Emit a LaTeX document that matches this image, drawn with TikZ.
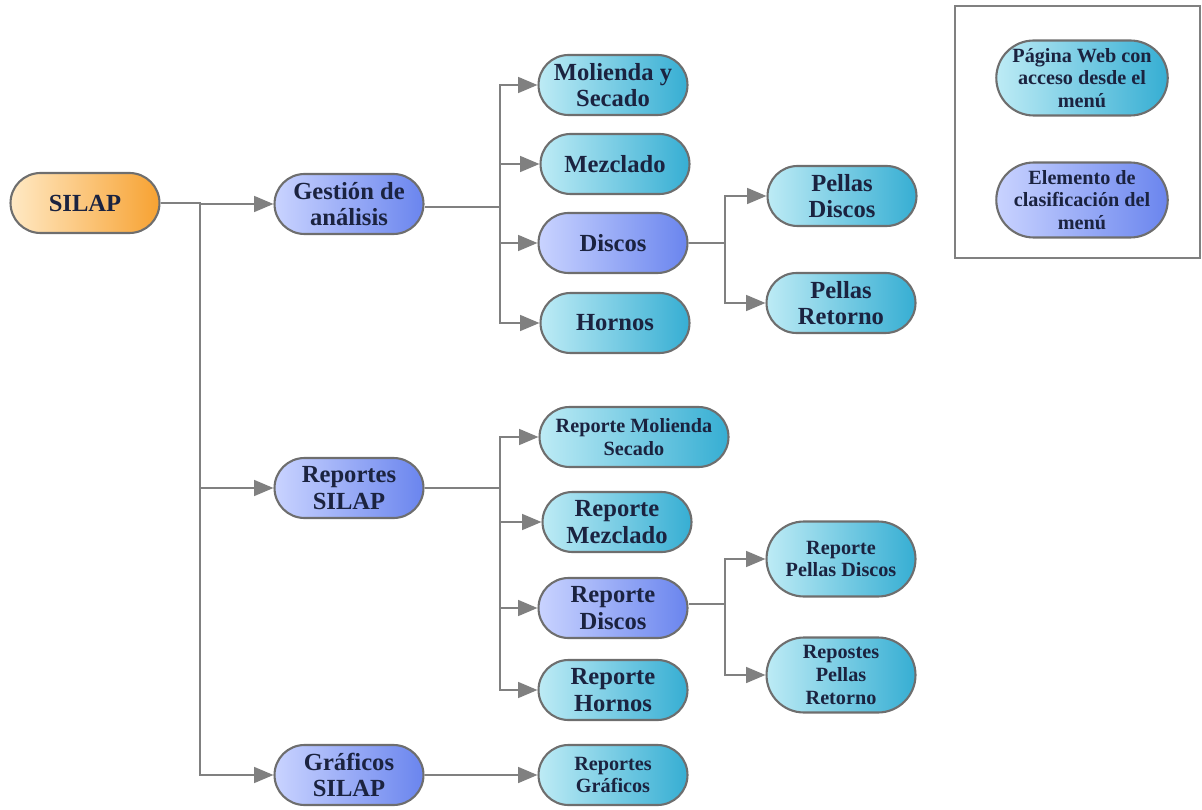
\documentclass[tikz,border=0pt]{standalone}
\usepackage{fontspec}
\usepackage{tikz}
\usetikzlibrary{shapes.misc,arrows.meta}
\setmainfont{Liberation Serif}

\definecolor{inkblue}{HTML}{1B2340}
\definecolor{linkgray}{HTML}{808080}
\definecolor{edgegray}{HTML}{6E6E6E}
\definecolor{orangelt}{HTML}{FFE9C4}
\definecolor{orangedk}{HTML}{F7A232}
\definecolor{bluelt}{HTML}{C9D3FF}
\definecolor{bluedk}{HTML}{6A85EE}
\definecolor{cyanlt}{HTML}{BDEBF5}
\definecolor{cyandk}{HTML}{36AED3}

\begin{document}
\begin{tikzpicture}[x=0.02cm,y=-0.02cm,
  box/.style={rounded rectangle, draw=edgegray, line width=1.2pt, align=center,
    text=inkblue, font=\bfseries\fontsize{14}{15}\selectfont,
    minimum width=3.05cm, minimum height=1.2cm, inner sep=1pt},
  small/.style={font=\bfseries\fontsize{11.5}{13}\selectfont},
  root/.style={box, left color=orangelt, right color=orangedk},
  menu/.style={box, left color=bluelt, right color=bluedk},
  page/.style={box, left color=cyanlt, right color=cyandk},
  link/.style={draw=linkgray, line width=1.1pt},
  arrow/.style={link, -{Triangle[length=11pt,width=9pt]}}]

  \useasboundingbox (0,0) rectangle (1202,810);

  % Legend
  \draw[draw=linkgray, line width=1.2pt] (955,6) rectangle (1200,258);
  \node[page, small, minimum width=3.5cm, minimum height=1.5cm] (legpage) at (1082,78) {Página Web con\\acceso desde el\\menú};
  \node[menu, small, minimum width=3.5cm, minimum height=1.5cm] (legmenu) at (1082,200) {Elemento de\\clasificación del\\menú};

  % Root and first level
  \node[root] (silap) at (85,203) {SILAP};
  \node[menu] (gestion) at (349,204) {Gestión de\\análisis};
  \node[menu] (reportes) at (349,488) {Reportes\\SILAP};
  \node[menu] (graficos) at (349,775) {Gráficos\\SILAP};

  % Gestion de analisis
  \node[page] (molienda) at (613,85) {Molienda y\\Secado};
  \node[page] (mezclado) at (615,164) {Mezclado};
  \node[menu] (discos) at (613,243) {Discos};
  \node[page] (hornos) at (615,323) {Hornos};
  \node[page] (pdiscos) at (842,196) {Pellas\\Discos};
  \node[page] (pretorno) at (841,303) {Pellas\\Retorno};

  % Reportes SILAP
  \node[page, small, minimum width=3.85cm] (rmolienda) at (634,437) {Reporte Molienda\\Secado};
  \node[page] (rmezclado) at (617,522) {Reporte\\Mezclado};
  \node[menu] (rdiscos) at (613,608) {Reporte\\Discos};
  \node[page] (rhornos) at (613,690) {Reporte\\Hornos};
  \node[page, small, minimum height=1.5cm] (rpdiscos) at (841,559) {Reporte\\Pellas Discos};
  \node[page, small, minimum height=1.5cm] (rpretorno) at (841,675) {Repostes\\Pellas\\Retorno};

  % Graficos SILAP
  \node[page, small] (rgraficos) at (613,775) {Reportes\\Gráficos};

  % Connectors
  \coordinate (j0) at (200,203);
  \draw[link] (silap.east) -- (j0) -- (j0 |- graficos);
  \draw[arrow] (j0) |- (gestion);
  \draw[arrow] (j0) |- (reportes);
  \draw[arrow] (j0) |- (graficos);

  \coordinate (j1) at (500,207);
  \draw[link] (gestion.east |- j1) -- (j1);
  \draw[link] (j1 |- molienda) -- (j1 |- hornos);
  \foreach \n in {molienda,mezclado,discos,hornos}
    \draw[arrow] (j1) |- (\n);

  \coordinate (j2) at (725,243);
  \draw[link] (discos.east) -- (j2);
  \draw[link] (j2 |- pdiscos) -- (j2 |- pretorno);
  \foreach \n in {pdiscos,pretorno}
    \draw[arrow] (j2) |- (\n);

  \coordinate (j3) at (500,488);
  \draw[link] (reportes.east) -- (j3);
  \draw[link] (j3 |- rmolienda) -- (j3 |- rhornos);
  \foreach \n in {rmolienda,rmezclado,rdiscos,rhornos}
    \draw[arrow] (j3) |- (\n);

  \coordinate (j4) at (725,604);
  \draw[link] (rdiscos.east |- j4) -- (j4);
  \draw[link] (j4 |- rpdiscos) -- (j4 |- rpretorno);
  \foreach \n in {rpdiscos,rpretorno}
    \draw[arrow] (j4) |- (\n);

  \draw[arrow] (graficos) -- (rgraficos);

\end{tikzpicture}
\end{document}
